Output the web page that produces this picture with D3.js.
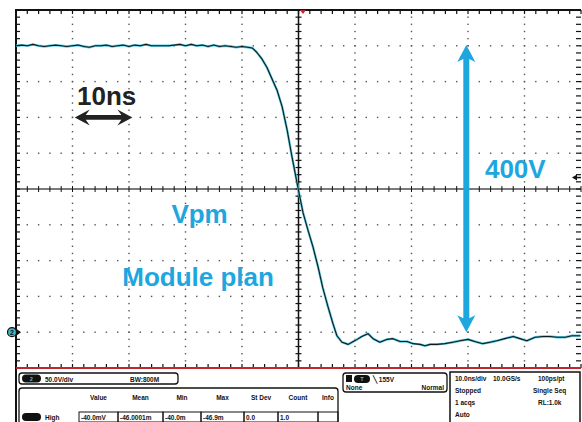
<!DOCTYPE html>
<html><head><meta charset="utf-8">
<script src="https://cdn.jsdelivr.net/npm/d3@7"></script>
<style>html,body{margin:0;padding:0;background:#fff;}svg{display:block;font-family:"Liberation Sans",Arial,sans-serif;}</style>
</head><body>
<script>
// ---- data (time in ns, voltage in V; 10 ns/div, 50 V/div) ----
const timeNs = [-50,-49,-48,-47,-46,-45,-44,-43,-42,-41,-40,-39,-38,-37,-36,-35,-34,-33,-32,-31,-30,-29,-28,-27,-26,-25,-24,-23,-22,-21,-20,-19,-18,-17,-16,-15,-14,-13,-12,-11,-10,-9,
  -8.2,-7.4,-6.5,-5.6,-4.7,-3.8,-2.9,-2.0,-1.2,-0.1,0.8,1.7,2.6,3.5,4.3,5.2,6.1,6.8,7.7,8.8,9.7,10.4,11.2,12.3,13.2,14.4,
  15.7,16.7,18.0,19.2,20.3,21.5,22.4,23.3,24.5,25.9,27.3,28.6,30.0,31.2,32.6,33.9,35.1,36.5,38.0,39.2,40.4,41.9,43.3,44.5,45.8,47.2,48.4,49.9];
const voltV = [400,401,400,402,400,399,400,401,400,399,400,401,399,398,400,400,401,399,400,401,399,401,400,402,400,400,400,400,401,402,400,402,400,401,399,401,399,400,399,398,399,398,
  397,391,382,370,354,338,315,282,247,202,167,142,118,90,62,36,12,-5,-14,-17,-13,-10,-6,-2,-9,-14,
  -10,-9,-13,-13,-16,-17,-19,-17,-17,-16,-14,-12,-10,-13,-16,-14,-12,-9,-6,-9,-12,-7,-6,-6,-7,-7,-5,-5];
const xTicks = [-50,-40,-30,-20,-10,0,10,20,30,40,50];
const yTicks = [-50,0,50,100,150,200,250,300,350,400,450];
const labels = [
  {text:"10ns", t:-39.2, v:317, color:"#222"},
  {text:"400V", t:33.0, v:215, color:"#1ea6df"},
  {text:"Vpm", t:-22.5, v:152, color:"#1ea6df"},
  {text:"Module plan", t:-31.2, v:65, color:"#1ea6df"}
];
const measHeaders = ["Value","Mean","Min","Max","St Dev","Count","Info"];
const measValues = ["-40.0mV","-46.0001m","-40.0m","-46.9m","0.0","1.0",""];
const statusLines = [["10.0ns/div","10.0GS/s","100ps/pt"],["Stopped","","Single Seq"],["1 acqs","","RL:1.0k"],["Auto","",""]];

const W=582,H=422;
const svg=d3.select("body").append("svg").attr("width",W).attr("height",H);
const x=d3.scaleLinear().domain([-50,50]).range([16,581]);
const y=d3.scaleLinear().domain([-50,450]).range([368,10]);

const g=svg.append("g");
// dotted grid
const minorX=d3.range(-50,50.01,2), minorY=d3.range(-50,450.01,10);
xTicks.filter(t=>t!==0&&t!==-50&&t!==50).forEach(t=>{
  g.selectAll(null).data(minorY).enter().append("rect")
   .attr("x",x(t)-0.7).attr("y",d=>y(d)-0.7).attr("width",1.4).attr("height",1.4).attr("fill","#555");
});
yTicks.filter(v=>v!==200&&v!==-50&&v!==450).forEach(v=>{
  g.selectAll(null).data(minorX).enter().append("rect")
   .attr("x",d=>x(d)-0.7).attr("y",y(v)-0.7).attr("width",1.4).attr("height",1.4).attr("fill","#555");
});
// center lines
g.append("line").attr("x1",x(-50)).attr("x2",x(50)).attr("y1",y(200)).attr("y2",y(200)).attr("stroke","#7a7a7a").attr("stroke-width",2);
g.append("line").attr("x1",x(0)).attr("x2",x(0)).attr("y1",y(450)).attr("y2",y(-50)).attr("stroke","#111").attr("stroke-width",1.5);
// ticks on center lines
g.selectAll(null).data(minorX).enter().append("line")
 .attr("x1",d=>x(d)).attr("x2",d=>x(d)).attr("y1",y(200)-3).attr("y2",y(200)+3).attr("stroke","#111").attr("stroke-width",1);
g.selectAll(null).data(minorY).enter().append("line")
 .attr("y1",d=>y(d)).attr("y2",d=>y(d)).attr("x1",x(0)-3).attr("x2",x(0)+3).attr("stroke","#111").attr("stroke-width",1.2);
// borders
g.append("line").attr("x1",x(-50)-1).attr("x2",x(50)).attr("y1",y(450)).attr("y2",y(450)).attr("stroke","#111").attr("stroke-width",2);
g.append("line").attr("x1",x(-50)).attr("x2",x(-50)).attr("y1",y(450)).attr("y2",422).attr("stroke","#111").attr("stroke-width",2);
g.selectAll(null).data(minorX).enter().append("line")
 .attr("x1",d=>x(d)).attr("x2",d=>x(d)).attr("y1",y(450)).attr("y2",y(450)+4).attr("stroke","#111").attr("stroke-width",1.2);
g.selectAll(null).data(minorX).enter().append("line")
 .attr("x1",d=>x(d)).attr("x2",d=>x(d)).attr("y1",y(-50)-4).attr("y2",y(-50)).attr("stroke","#111").attr("stroke-width",1.2);
g.selectAll(null).data(minorY).enter().append("line")
 .attr("y1",d=>y(d)).attr("y2",d=>y(d)).attr("x1",x(-50)).attr("x2",x(-50)+4).attr("stroke","#111").attr("stroke-width",1.2);
g.selectAll(null).data(minorY).enter().append("line")
 .attr("y1",d=>y(d)).attr("y2",d=>y(d)).attr("x1",x(50)-5).attr("x2",x(50)).attr("stroke","#111").attr("stroke-width",1.2);
g.append("line").attr("x1",x(-50)).attr("x2",x(50)).attr("y1",y(-50)).attr("y2",y(-50)).attr("stroke","#c0272d").attr("stroke-width",2);
// trigger position marker
g.append("path").attr("d",`M${x(0.8)-3},${y(450)}L${x(0.8)+3},${y(450)}L${x(0.8)},${y(450)+4}Z`).attr("fill","#c0272d");
// trigger level arrow right
g.append("path").attr("d",`M${x(50)-9},${y(216)}L${x(50)-4},${y(216)-3}L${x(50)-4},${y(216)+3}Z`).attr("fill","#111");
g.append("line").attr("x1",x(50)-5).attr("x2",x(50)).attr("y1",y(216)).attr("y2",y(216)).attr("stroke","#111").attr("stroke-width",1.5);
// ground marker
g.append("circle").attr("cx",12).attr("cy",y(0)).attr("r",4.5).attr("fill","#3bb7c9").attr("stroke","#111").attr("stroke-width",1.2);
g.append("text").attr("x",12).attr("y",y(0)+2.5).attr("text-anchor","middle").attr("font-size",7).attr("font-weight","bold").attr("fill","#111").text("2");
g.append("path").attr("d",`M${x(-50)+1},${y(0)-3}L${x(-50)+5},${y(0)}L${x(-50)+1},${y(0)+3}Z`).attr("fill","#111");

// trace
const pts=timeNs.map((t,i)=>[t,voltV[i]]);
const line=d3.line().x(d=>x(d[0])).y(d=>y(d[1]));
g.append("path").datum(pts).attr("d",line).attr("fill","none").attr("stroke","#5cc6db").attr("stroke-width",2.4).attr("stroke-linejoin","round");
g.append("path").datum(pts).attr("d",line).attr("fill","none").attr("stroke","#0a1c20").attr("stroke-width",1.1).attr("stroke-linejoin","round");

// annotations
labels.forEach(l=>{
  g.append("text").attr("x",x(l.t)).attr("y",y(l.v)).attr("font-size",26).attr("font-weight","bold").attr("fill",l.color).text(l.text);
});
// 10ns double arrow (black) on 300V gridline
function hArrow(t1,t2,v,color){
  const x1=x(t1),x2=x(t2),yy=y(v),hl=15,hw=8,sw=2.4;
  g.append("path").attr("fill",color).attr("d",
   `M${x1},${yy}L${x1+hl},${yy-hw}L${x1+hl-4},${yy-sw}L${x2-hl+4},${yy-sw}L${x2-hl},${yy-hw}L${x2},${yy}L${x2-hl},${yy+hw}L${x2-hl+4},${yy+sw}L${x1+hl-4},${yy+sw}L${x1+hl},${yy+hw}Z`);
}
hArrow(-39.6,-29.4,300,"#222");
function vArrow(t,v1,v2,color){
  const xx=x(t),y1=y(v2),y2=y(v1),hl=17,hw=9,sw=3;
  g.append("path").attr("fill",color).attr("d",
   `M${xx},${y1}L${xx+hw},${y1+hl}L${xx+sw},${y1+hl-3}L${xx+sw},${y2-hl+3}L${xx+hw},${y2-hl}L${xx},${y2}L${xx-hw},${y2-hl}L${xx-sw},${y2-hl+3}L${xx-sw},${y1+hl-3}L${xx-hw},${y1+hl}Z`);
}
vArrow(29.7,0,401,"#1ea6df");

// ---- bottom status panel ----
const p=svg.append("g").attr("font-size",6.5).attr("font-weight","bold").attr("fill","#111");
function box(x0,y0,w,h){p.append("rect").attr("x",x0).attr("y",y0).attr("width",w).attr("height",h).attr("rx",3).attr("fill","#fff").attr("stroke","#111").attr("stroke-width",1.3);}
box(19,373,159,11);
p.append("rect").attr("x",22).attr("y",374.5).attr("width",19).attr("height",8).attr("rx",4).attr("fill","#111");
p.append("text").attr("x",31.5).attr("y",381).attr("text-anchor","middle").attr("fill","#5cc6db").attr("font-size",5).text("2");
p.append("text").attr("x",45).attr("y",381.5).text("50.0V/div");
p.append("text").attr("x",130).attr("y",381.5).text("BW:800M");
box(19,388,319,40);
p.append("rect").attr("x",22).attr("y",413).attr("width",19).attr("height",8).attr("rx",4).attr("fill","#111");
p.append("text").attr("x",45).attr("y",419.5).text("High");
const cellX=[79,118,163,201,244,278,318,338];
measHeaders.forEach((h,i)=>{
  p.append("text").attr("x",(cellX[i]+cellX[i+1])/2).attr("y",400).attr("text-anchor","middle").text(h);
});
measValues.forEach((v,i)=>{
  p.append("rect").attr("x",cellX[i]).attr("y",412).attr("width",cellX[i+1]-cellX[i]).attr("height",10).attr("fill","none").attr("stroke","#111").attr("stroke-width",1);
  p.append("text").attr("x",cellX[i]+2).attr("y",419.5).text(v);
});
box(343,373,104,19);
p.append("rect").attr("x",346).attr("y",375).attr("width",6).attr("height",7).attr("fill","#111");
p.append("rect").attr("x",354).attr("y",375).attr("width",16).attr("height",8).attr("rx",4).attr("fill","#111");
p.append("text").attr("x",362).attr("y",381).attr("text-anchor","middle").attr("fill","#5cc6db").attr("font-size",5).text("T");
p.append("text").attr("x",373).attr("y",381.5).text("\u2572 155V");
p.append("text").attr("x",346).attr("y",390).text("None");
p.append("text").attr("x",444).attr("y",390).attr("text-anchor","end").text("Normal");
p.append("rect").attr("x",450).attr("y",372).attr("width",130).attr("height",52).attr("fill","#fff").attr("stroke","#111").attr("stroke-width",1.5);
const colX=[455,493,538];
statusLines.forEach((row,r)=>{
  row.forEach((s,c)=>{
    if(!s) return;
    const xx = (r>0 && c===2) ? (r===1?533:538) : colX[c];
    p.append("text").attr("x",xx).attr("y",381+r*12).text(s);
  });
});
</script>
</body></html>
